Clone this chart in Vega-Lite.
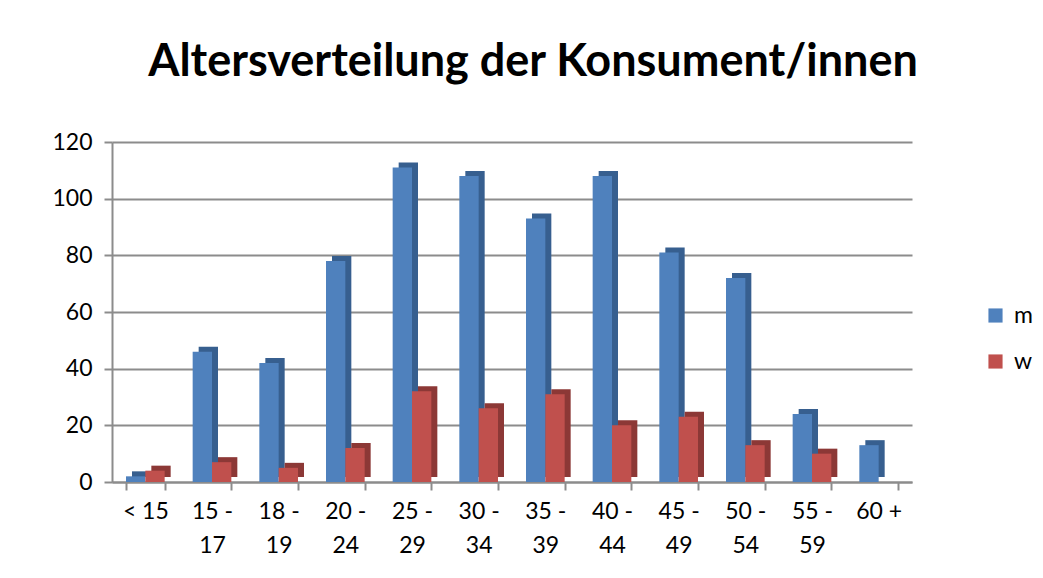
{
  "$schema": "https://vega.github.io/schema/vega-lite/v6.json",
  "width": 800,
  "height": 340,
  "autosize": {"type": "none"},
  "padding": {"left": 112, "top": 142, "right": 131, "bottom": 96},
  "background": "white",
  "title": {
    "text": "Altersverteilung der Konsument/innen",
    "font": "Lato",
    "fontSize": 45,
    "fontWeight": "bold",
    "color": "#000000",
    "anchor": "middle",
    "frame": "group",
    "dx": 21,
    "offset": 46
  },
  "data": {
    "values": [
      {"Alter": "< 15", "Geschlecht": "m", "Anzahl": 2},
      {"Alter": "< 15", "Geschlecht": "w", "Anzahl": 4},
      {"Alter": "15 - 17", "Geschlecht": "m", "Anzahl": 46},
      {"Alter": "15 - 17", "Geschlecht": "w", "Anzahl": 7},
      {"Alter": "18 - 19", "Geschlecht": "m", "Anzahl": 42},
      {"Alter": "18 - 19", "Geschlecht": "w", "Anzahl": 5},
      {"Alter": "20 - 24", "Geschlecht": "m", "Anzahl": 78},
      {"Alter": "20 - 24", "Geschlecht": "w", "Anzahl": 12},
      {"Alter": "25 - 29", "Geschlecht": "m", "Anzahl": 111},
      {"Alter": "25 - 29", "Geschlecht": "w", "Anzahl": 32},
      {"Alter": "30 - 34", "Geschlecht": "m", "Anzahl": 108},
      {"Alter": "30 - 34", "Geschlecht": "w", "Anzahl": 26},
      {"Alter": "35 - 39", "Geschlecht": "m", "Anzahl": 93},
      {"Alter": "35 - 39", "Geschlecht": "w", "Anzahl": 31},
      {"Alter": "40 - 44", "Geschlecht": "m", "Anzahl": 108},
      {"Alter": "40 - 44", "Geschlecht": "w", "Anzahl": 20},
      {"Alter": "45 - 49", "Geschlecht": "m", "Anzahl": 81},
      {"Alter": "45 - 49", "Geschlecht": "w", "Anzahl": 23},
      {"Alter": "50 - 54", "Geschlecht": "m", "Anzahl": 72},
      {"Alter": "50 - 54", "Geschlecht": "w", "Anzahl": 13},
      {"Alter": "55 - 59", "Geschlecht": "m", "Anzahl": 24},
      {"Alter": "55 - 59", "Geschlecht": "w", "Anzahl": 10},
      {"Alter": "60 +", "Geschlecht": "m", "Anzahl": 13},
      {"Alter": "60 +", "Geschlecht": "w", "Anzahl": 0}
    ]
  },
  "encoding": {
    "x": {
      "field": "Alter",
      "type": "nominal",
      "sort": null,
      "title": null,
      "scale": {"paddingInner": 0.42, "paddingOuter": 0.21},
      "axis": {
        "labelAngle": 0,
        "labelFont": "Lato",
        "labelFontSize": 23,
        "labelColor": "#000000",
        "labelPadding": 10,
        "labelLineHeight": 34,
        "labelBaseline": "top",
        "labelExpr": "indexof(datum.label, ' - ') > 0 ? [substring(datum.label, 0, 4), substring(datum.label, 5)] : datum.label",
        "domainColor": "#8c8c8c",
        "domainWidth": 2,
        "tickColor": "#8c8c8c",
        "tickWidth": 2,
        "tickSize": 8,
        "tickBand": "extent",
        "grid": false
      }
    },
    "y": {
      "field": "Anzahl",
      "type": "quantitative",
      "title": null,
      "scale": {"domain": [0, 120]},
      "axis": {
        "values": [0, 20, 40, 60, 80, 100, 120],
        "labelFont": "Lato",
        "labelFontSize": 23,
        "labelColor": "#000000",
        "labelPadding": 12,
        "domainColor": "#8c8c8c",
        "domainWidth": 2,
        "tickColor": "#8c8c8c",
        "tickWidth": 2,
        "tickSize": 8,
        "gridColor": "#8c8c8c",
        "gridWidth": 2,
        "gridOpacity": 1
      }
    }
  },
  "layer": [
    {
      "mark": {"type": "bar", "stroke": null, "yOffset": -5, "y2Offset": -5},
      "encoding": {
        "xOffset": {"field": "Geschlecht", "type": "nominal", "scale": {"range": [6, 44.67]}},
        "fill": {
          "field": "Geschlecht",
          "type": "nominal",
          "scale": {"domain": ["m", "w"], "range": ["#375F8F", "#8C3836"]},
          "legend": null
        }
      }
    },
    {
      "mark": {"type": "bar", "stroke": null},
      "encoding": {
        "xOffset": {"field": "Geschlecht", "type": "nominal"},
        "color": {
          "field": "Geschlecht",
          "type": "nominal",
          "scale": {"domain": ["m", "w"], "range": ["#4F81BD", "#C0504D"]},
          "legend": {
            "title": null,
            "orient": "none",
            "legendX": 872,
            "legendY": 162,
            "symbolType": "square",
            "symbolSize": 200,
            "symbolStrokeWidth": 0,
            "labelFont": "Lato",
            "labelFontSize": 23,
            "labelColor": "#000000",
            "labelOffset": 7,
            "rowPadding": 22
          }
        }
      }
    }
  ],
  "resolve": {"scale": {"xOffset": "independent", "color": "independent", "fill": "independent"}, "legend": {"color": "independent", "fill": "independent"}},
  "config": {
    "view": {"stroke": null}
  }
}
